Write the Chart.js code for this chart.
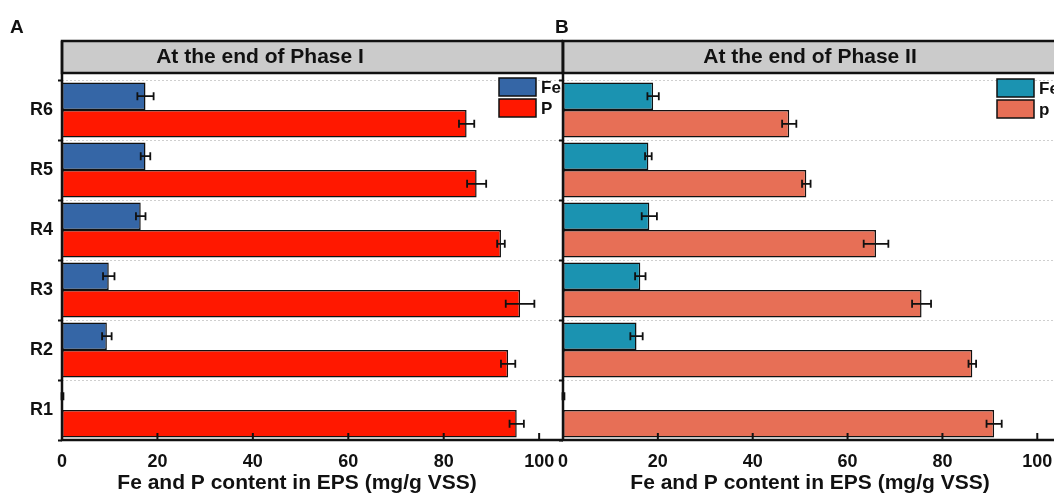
<!DOCTYPE html>
<html>
<head>
<meta charset="utf-8">
<script src="https://cdn.jsdelivr.net/npm/chart.js@4"></script>
<style>
  html, body { margin: 0; padding: 0; background: #fff; overflow: hidden; width: 1054px; height: 494px; }
  #boxA { position: absolute; left: 0; top: 0; }
  #boxB { position: absolute; left: 541px; top: 0; }
</style>
</head>
<body>
<div id="boxA"><canvas id="chartA" width="563" height="494"></canvas></div>
<div id="boxB"><canvas id="chartB" width="540" height="494"></canvas></div>
<script>
const reactors = ["R6", "R5", "R4", "R3", "R2", "R1"];
const xTicks = [0, 20, 40, 60, 80, 100];
const xTitle = "Fe and P content in EPS (mg/g VSS)";

// Phase I
const fe1 = [17.5, 17.5, 16.5, 9.8, 9.4, 0.1];
const fe1Err = [1.7, 1.0, 1.0, 1.2, 1.0, 0.2];
const p1 = [84.8, 86.9, 92.0, 96.0, 93.5, 95.3];
const p1Err = [1.6, 2.0, 0.8, 3.0, 1.5, 1.5];

// Phase II
const fe2 = [19.0, 18.0, 18.2, 16.3, 15.5, 0.1];
const fe2Err = [1.2, 0.7, 1.6, 1.1, 1.3, 0.2];
const p2 = [47.7, 51.3, 66.0, 75.6, 86.3, 90.9];
const p2Err = [1.5, 0.9, 2.6, 2.0, 0.8, 1.6];

const FONT = '"Liberation Sans", Arial, sans-serif';

const errorBars = {
  id: "errorBars",
  afterDatasetsDraw(chart){
    const ctx = chart.ctx;
    const x = chart.scales.x;
    ctx.save();
    ctx.strokeStyle = "#111";
    ctx.lineWidth = 1.8;
    chart.data.datasets.forEach((ds, di)=>{
      chart.getDatasetMeta(di).data.forEach((bar, i)=>{
        const x1 = x.getPixelForValue(ds.data[i] - ds.errors[i]);
        const x2 = x.getPixelForValue(ds.data[i] + ds.errors[i]);
        const y = bar.y;
        ctx.beginPath();
        ctx.moveTo(x1, y); ctx.lineTo(x2, y);
        ctx.moveTo(x1, y - 4); ctx.lineTo(x1, y + 4);
        ctx.moveTo(x2, y - 4); ctx.lineTo(x2, y + 4);
        ctx.stroke();
      });
    });
    ctx.restore();
  }
};

const panel = {
  id: "panel",
  beforeDraw(chart, args, opts){
    const {ctx, chartArea: a} = chart;
    ctx.save();
    ctx.fillStyle = "#cbcbcb";
    ctx.fillRect(a.left, 41, a.right - a.left, 32);
    ctx.restore();
  },
  afterDraw(chart, args, opts){
    const {ctx, chartArea: a} = chart;
    const x = chart.scales.x;
    ctx.save();
    ctx.strokeStyle = "#111";
    ctx.lineWidth = 2.5;
    ctx.strokeRect(a.left, 41, a.right - a.left, 32);
    ctx.beginPath();
    ctx.moveTo(a.left, 41); ctx.lineTo(a.left, a.bottom + 1.2);
    ctx.moveTo(a.left, a.bottom); ctx.lineTo(a.right, a.bottom);
    ctx.stroke();
    // inward ticks on x axis
    ctx.lineWidth = 2;
    x.ticks.forEach(t=>{
      const px = x.getPixelForValue(t.value);
      ctx.beginPath();
      ctx.moveTo(px, a.bottom); ctx.lineTo(px, a.bottom - 7);
      ctx.stroke();
    });
    ctx.fillStyle = "#111";
    ctx.textBaseline = "middle";
    ctx.textAlign = "center";
    ctx.font = "bold 21px " + FONT;
    ctx.fillText(opts.title, opts.titleX, 57.5);
    ctx.fillText(xTitle, opts.axisTitleX, 483);
    ctx.textAlign = "left";
    ctx.font = "bold 19px " + FONT;
    ctx.fillText(opts.letter, opts.letterX, 28);
    // legend
    chart.data.datasets.forEach((ds, i)=>{
      const y = opts.legendY + i * 21;
      ctx.fillStyle = ds.backgroundColor;
      ctx.fillRect(opts.legendX, y, 37, 18);
      ctx.lineWidth = 1.5;
      ctx.strokeRect(opts.legendX, y, 37, 18);
      ctx.fillStyle = "#111";
      ctx.font = "bold 17px " + FONT;
      ctx.fillText(ds.label, opts.legendX + 42, y + 10);
    });
    ctx.restore();
  }
};

function makeChart(id, fe, feErr, p, pErr, colors, labels, opts){
  new Chart(document.getElementById(id), {
    type: "bar",
    data: {
      labels: reactors,
      datasets: [
        { label: labels[0], data: fe, errors: feErr, backgroundColor: colors[0] },
        { label: labels[1], data: p, errors: pErr, backgroundColor: colors[1] }
      ]
    },
    options: {
      indexAxis: "y",
      responsive: false,
      animation: false,
      layout: { padding: { top: 80, left: 0, right: opts.padRight, bottom: 0 } },
      datasets: {
        bar: {
          barPercentage: 1,
          categoryPercentage: 0.92,
          borderWidth: 1.5,
          borderColor: "#111",
          borderSkipped: false
        }
      },
      plugins: {
        legend: { display: false },
        tooltip: { enabled: false },
        panel: opts
      },
      scales: {
        x: {
          min: 0,
          max: 105,
          afterBuildTicks: s=>{ s.ticks = xTicks.map(v=>({ value: v })); },
          ticks: { padding: 3, color: "#111", font: { family: FONT, size: 18, weight: "bold" } },
          grid: { display: false },
          border: { display: false },
          afterFit: s=>{ s.height = 54; }
        },
        y: {
          ticks: { display: opts.showY, padding: 5, color: "#111", font: { family: FONT, size: 18, weight: "bold" } },
          grid: { color: "#cfcfcf", lineWidth: 1, tickLength: 4, tickColor: "#111", tickWidth: 2, tickBorderDash: [] },
          border: { display: false, dash: [2, 2] },
          afterFit: s=>{ s.width = opts.yWidth; }
        }
      }
    },
    plugins: [errorBars, panel]
  });
}

makeChart("chartA", fe1, fe1Err, p1, p1Err, ["#3566a6", "#ff1800"], ["Fe", "P"], {
  padRight: 0, yWidth: 62, showY: true,
  title: "At the end of Phase I", titleX: 260, axisTitleX: 297, letter: "A", letterX: 10,
  legendX: 499, legendY: 78
});

makeChart("chartB", fe2, fe2Err, p2, p2Err, ["#1b93b1", "#e76f56"], ["Fe", "p"], {
  padRight: 20, yWidth: 22, showY: false,
  title: "At the end of Phase II", titleX: 269, axisTitleX: 269, letter: "B", letterX: 14,
  legendX: 456, legendY: 79
});
</script>
</body>
</html>
